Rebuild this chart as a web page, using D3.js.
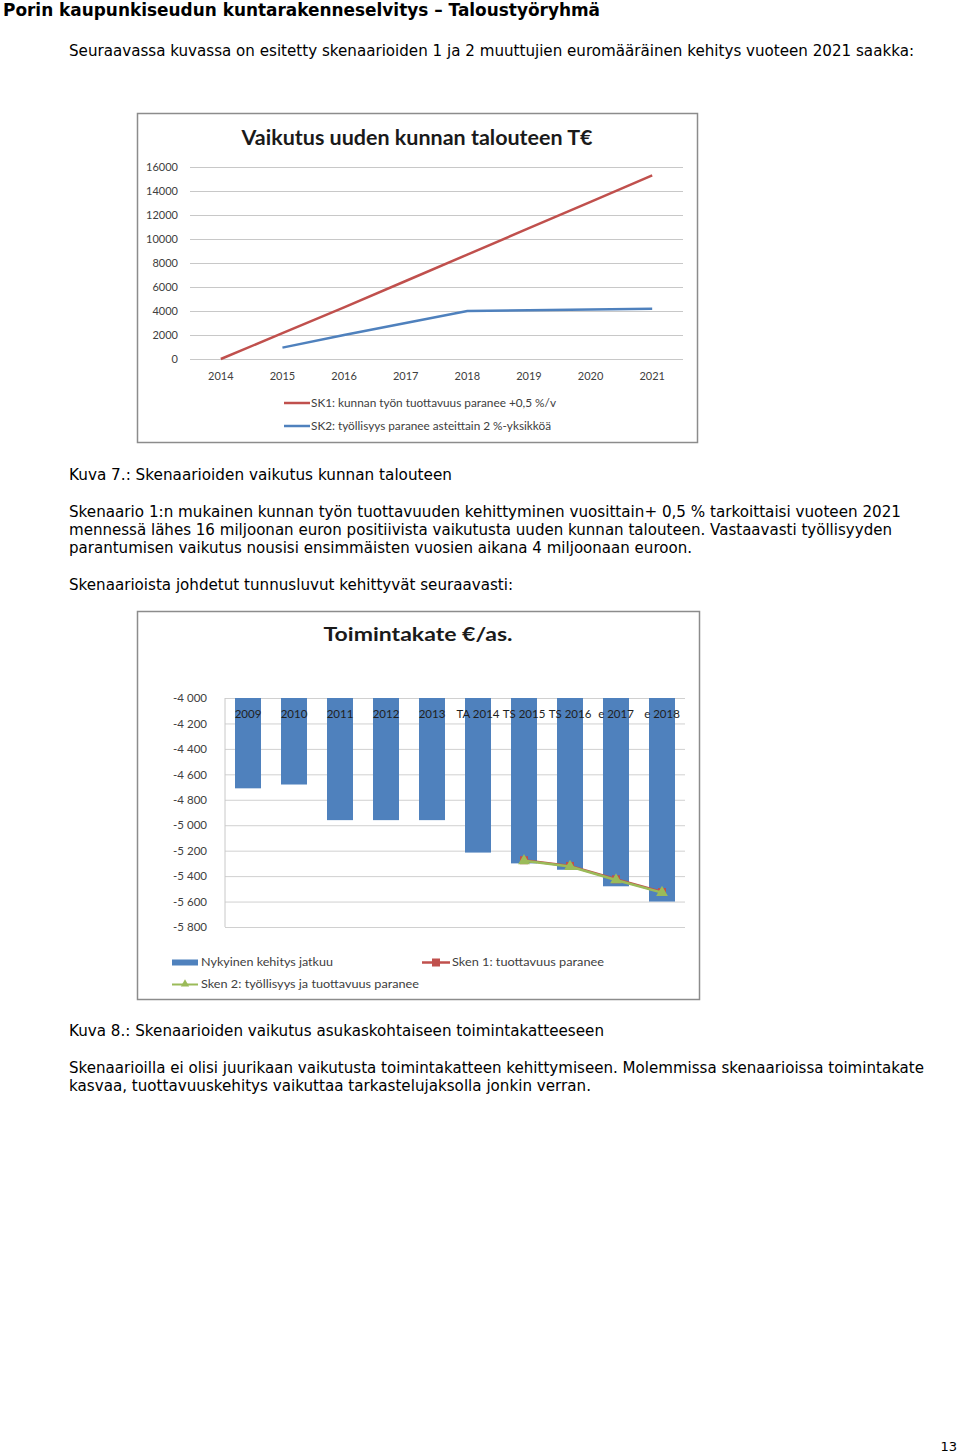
<!DOCTYPE html>
<html><head><meta charset="utf-8">
<script src="https://cdnjs.cloudflare.com/ajax/libs/d3/7.8.5/d3.min.js"></script>
<style>body{margin:0;background:#fff}svg{display:block}</style>
</head><body>
<script>
// ---- Chart 1 data ----
const years1 = ["2014","2015","2016","2017","2018","2019","2020","2021"];
const sk1Values = [0, 2150, 4300, 6500, 8700, 10900, 13100, 15300];
const sk2Values = [null, 950, 2000, 3000, 4000, 4060, 4120, 4180];
const yTicks1 = [0,2000,4000,6000,8000,10000,12000,14000,16000];
const series1Names = ["SK1: kunnan työn tuottavuus paranee +0,5 %/v","SK2: työllisyys paranee asteittain 2 %-yksikköä"];

// ---- Chart 2 data ----
const cats2 = ["2009","2010","2011","2012","2013","TA 2014","TS 2015","TS 2016","e 2017","e 2018"];
const barValues = [-4710,-4680,-4960,-4960,-4960,-5215,-5300,-5350,-5480,-5600];
const sken1Values = [null,null,null,null,null,null,-5275,-5320,-5425,-5525];
const sken2Values = [null,null,null,null,null,null,-5280,-5325,-5430,-5530];
const yTicks2 = [-4000,-4200,-4400,-4600,-4800,-5000,-5200,-5400,-5600,-5800];
const series2Names = ["Nykyinen kehitys jatkuu","Sken 1: tuottavuus paranee","Sken 2: työllisyys ja tuottavuus paranee"];

const BLUE="#4F81BD", RED="#C0504D", GREEN="#9BBB59";
const svg = d3.select("body").append("svg").attr("width",960).attr("height",1453);
svg.append("rect").attr("width",960).attr("height",1453).attr("fill","#fff");

const BODY="'DejaVu Sans', Verdana, sans-serif";
const CAL="Lato, 'Open Sans', sans-serif";
function txt(x,y,s,size,w,opts={}){
  const t=svg.append("text").attr("x",x).attr("y",y).text(s)
    .attr("font-family",opts.family||BODY).attr("font-size",size)
    .attr("font-weight",opts.weight||"normal").attr("fill",opts.fill||"#000");
  if(opts.anchor) t.attr("text-anchor",opts.anchor);
  if(w) t.attr("textLength",w).attr("lengthAdjust","spacingAndGlyphs");
  return t;
}

// ---- Page text ----
txt(3,16,"Porin kaupunkiseudun kuntarakenneselvitys – Taloustyöryhmä",17,597,{weight:"bold"});
txt(69,56,"Seuraavassa kuvassa on esitetty skenaarioiden 1 ja 2 muuttujien euromääräinen kehitys vuoteen 2021 saakka:",15,845);
txt(69,480,"Kuva 7.: Skenaarioiden vaikutus kunnan talouteen",15,383);
txt(69,517,"Skenaario 1:n mukainen kunnan työn tuottavuuden kehittyminen vuosittain+ 0,5 % tarkoittaisi vuoteen 2021",15,832);
txt(69,535,"mennessä lähes 16 miljoonan euron positiivista vaikutusta uuden kunnan talouteen. Vastaavasti työllisyyden",15,823);
txt(69,553,"parantumisen vaikutus nousisi ensimmäisten vuosien aikana 4 miljoonaan euroon.",15,623);
txt(69,590,"Skenaarioista johdetut tunnusluvut kehittyvät seuraavasti:",15,444);
txt(69,1036,"Kuva 8.: Skenaarioiden vaikutus asukaskohtaiseen toimintakatteeseen",15,535);
txt(69,1073,"Skenaarioilla ei olisi juurikaan vaikutusta toimintakatteen kehittymiseen. Molemmissa skenaarioissa toimintakate",15,855);
txt(69,1091,"kasvaa, tuottavuuskehitys vaikuttaa tarkastelujaksolla jonkin verran.",15,522);
txt(957,1451,"13",13,null,{anchor:"end"});

// ================= Chart 1 =================
svg.append("rect").attr("x",137.5).attr("y",113.5).attr("width",560).attr("height",329)
  .attr("fill","#fff").attr("stroke","#8c8c8c").attr("stroke-width",1.5);
txt(417,145,"Vaikutus uuden kunnan talouteen T€",20,351,{family:CAL,weight:"bold",anchor:"middle",fill:"#1a1a1a"});

const x1 = d3.scaleBand().domain(years1).range([190,683]);
const y1 = d3.scaleLinear().domain([0,16000]).range([359,167]);
const g1 = svg.append("g");
g1.append("g").attr("transform","translate(190,0)")
  .call(d3.axisLeft(y1).tickValues(yTicks1).tickSize(-493).tickFormat(d3.format("d")).tickPadding(12))
  .call(g=>{g.select(".domain").remove();
    g.selectAll(".tick line").attr("stroke","#c8c8c8").attr("stroke-width",1);
    g.selectAll("text").attr("font-family",CAL).attr("font-size",11).attr("fill","#404040");});
g1.append("g").attr("transform","translate(0,359)")
  .call(d3.axisBottom(x1).tickSize(0).tickPadding(13))
  .call(g=>{g.select(".domain").remove();
    g.selectAll("text").attr("font-family",CAL).attr("font-size",11).attr("fill","#404040");});
const line1 = d3.line().defined(d=>d[1]!=null).x(d=>x1(d[0])+x1.bandwidth()/2).y(d=>y1(d[1]));
g1.append("path").datum(years1.map((c,i)=>[c,sk1Values[i]])).attr("d",line1)
  .attr("fill","none").attr("stroke",RED).attr("stroke-width",2.5);
g1.append("path").datum(years1.map((c,i)=>[c,sk2Values[i]])).attr("d",line1)
  .attr("fill","none").attr("stroke",BLUE).attr("stroke-width",2.5);
// legend
[[RED,403],[BLUE,426]].forEach(([c,y],i)=>{
  svg.append("line").attr("x1",284).attr("x2",310).attr("y1",y).attr("y2",y).attr("stroke",c).attr("stroke-width",2.5);
  txt(311,y+4,series1Names[i],11,i==0?245:240,{family:CAL,fill:"#404040"});
});

// ================= Chart 2 =================
svg.append("rect").attr("x",137.5).attr("y",611.5).attr("width",562).attr("height",388)
  .attr("fill","#fff").attr("stroke","#8c8c8c").attr("stroke-width",1.5);
txt(418,641,"Toimintakate €/as.",19,189,{family:CAL,weight:"bold",anchor:"middle",fill:"#1a1a1a"});

const x2 = d3.scaleBand().domain(cats2).range([225,685]).paddingInner(0.435).paddingOuter(0.2175);
const y2 = d3.scaleLinear().domain([-5800,-4000]).range([927,698]);
const g2 = svg.append("g");
const fmt2 = d=>d3.format(",")(d).replace(",", " ").replace("−","-");
g2.append("g").attr("transform","translate(225,0)")
  .call(d3.axisLeft(y2).tickValues(yTicks2).tickSize(-460).tickFormat(fmt2).tickPadding(18))
  .call(g=>{g.select(".domain").remove();
    g.selectAll(".tick line").attr("stroke","#d0d0d0").attr("stroke-width",1);
    g.selectAll("text").attr("font-family",CAL).attr("font-size",11.5).attr("fill","#404040");});
g2.append("line").attr("x1",225).attr("x2",225).attr("y1",698).attr("y2",927).attr("stroke","#c8c8c8");
g2.selectAll("rect.bar").data(cats2.map((c,i)=>[c,barValues[i]])).join("rect").attr("class","bar")
  .attr("x",d=>x2(d[0])).attr("width",x2.bandwidth())
  .attr("y",y2(-4000)).attr("height",d=>y2(d[1])-y2(-4000)).attr("fill",BLUE);
// category labels at top
g2.append("g").attr("transform","translate(0,698)")
  .call(d3.axisBottom(x2).tickSize(0).tickPadding(12))
  .call(g=>{g.select(".domain").remove();
    g.selectAll("text").attr("font-family",CAL).attr("font-size",11.5).attr("fill","#1f1f1f");});
const line2 = d3.line().defined(d=>d[1]!=null).x(d=>x2(d[0])+x2.bandwidth()/2).y(d=>y2(d[1]));
const s1 = cats2.map((c,i)=>[c,sken1Values[i]]);
const s2 = cats2.map((c,i)=>[c,sken2Values[i]]);
g2.append("path").datum(s1).attr("d",line2).attr("fill","none").attr("stroke",RED).attr("stroke-width",2.5);
g2.selectAll("rect.m1").data(s1.filter(d=>d[1]!=null)).join("rect").attr("class","m1")
  .attr("x",d=>x2(d[0])+x2.bandwidth()/2-4).attr("y",d=>y2(d[1])-4).attr("width",8).attr("height",8).attr("fill",RED);
g2.append("path").datum(s2).attr("d",line2).attr("fill","none").attr("stroke",GREEN).attr("stroke-width",2.5);
const tri = d3.symbol().type(d3.symbolTriangle).size(60);
g2.selectAll("path.m2").data(s2.filter(d=>d[1]!=null)).join("path").attr("class","m2")
  .attr("d",tri).attr("transform",d=>`translate(${x2(d[0])+x2.bandwidth()/2},${y2(d[1])})`).attr("fill",GREEN);
// legend
svg.append("rect").attr("x",172).attr("y",959.5).attr("width",26).attr("height",6).attr("fill",BLUE);
txt(201,966,series2Names[0],11.5,132,{family:CAL,fill:"#404040"});
svg.append("line").attr("x1",422).attr("x2",450).attr("y1",962.5).attr("y2",962.5).attr("stroke",RED).attr("stroke-width",2.5);
svg.append("rect").attr("x",432).attr("y",958.5).attr("width",8).attr("height",8).attr("fill",RED);
txt(452,966,series2Names[1],11.5,152,{family:CAL,fill:"#404040"});
svg.append("line").attr("x1",172).attr("x2",198).attr("y1",984.5).attr("y2",984.5).attr("stroke",GREEN).attr("stroke-width",2);
svg.append("path").attr("d",d3.symbol().type(d3.symbolTriangle).size(30)).attr("transform","translate(185,984)").attr("fill",GREEN);
txt(201,988,series2Names[2],11.5,218,{family:CAL,fill:"#404040"});
</script>
</body></html>
